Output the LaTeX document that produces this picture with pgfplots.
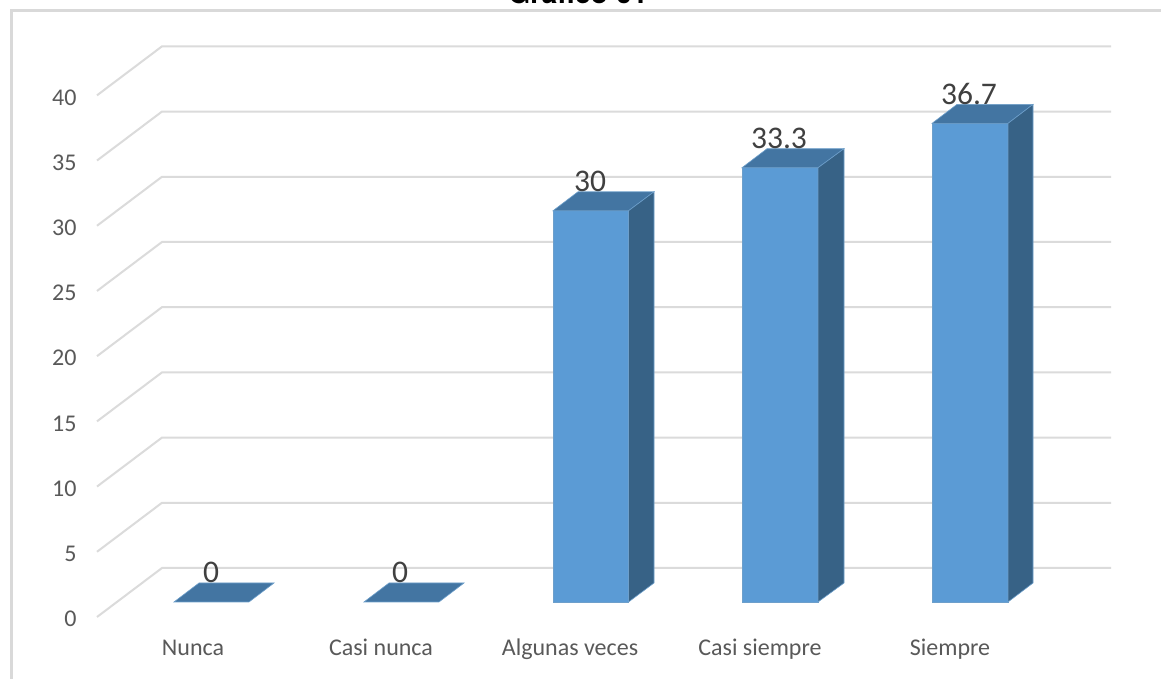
\documentclass[border=0pt]{standalone}
\usepackage{pgfplots}
\pgfplotsset{compat=1.18}
\usepackage{fontspec}
\setmainfont{Carlito}
\newfontfamily\arial{TeX Gyre Heros}
\definecolor{gridc}{HTML}{DBDBDB}
\definecolor{framec}{HTML}{D9D9D9}
\definecolor{frontc}{HTML}{5B9BD5}
\definecolor{topc}{HTML}{4375A2}
\definecolor{sidec}{HTML}{376286}
\definecolor{tickc}{HTML}{595959}
\definecolor{labc}{HTML}{404040}
\definecolor{edgec}{HTML}{6D9FCB}
\begin{document}
\begin{tikzpicture}
\clip (0,0) rectangle (1161pt,679pt);
\fill[white] (0,0) rectangle (1161pt,679pt);
\draw[framec,line width=2.4pt] (11.5pt,0) -- (11.5pt,668.5pt) -- (1161pt,668.5pt);
\node[font=\arial\bfseries\fontsize{28.5}{32}\selectfont,anchor=base,inner sep=0pt] at (578pt,675pt) {Gráfico 01};
\begin{axis}[
  at={(0,0)},anchor=south west,
  scale only axis,width=1161pt,height=679pt,
  xmin=0,xmax=1161,
  ymin=-5.905,ymax=46.166,
  clip=false,
  axis line style={draw=none},
  major tick length=0pt,
  tick style={draw=none},
  xtick={193,381,570,760,950},
  xticklabels={Nunca,Casi nunca,Algunas veces,Casi siempre,Siempre},
  ytick={-1.15,3.85,8.85,13.85,18.85,23.85,28.85,33.85,38.85},
  yticklabels={0,5,10,15,20,25,30,35,40},
  ticklabel style={text=tickc,font=\fontsize{24}{28}\selectfont},
  xticklabel style={anchor=base,yshift=23.5pt},
  yticklabel style={anchor=east,xshift=80pt,yshift=-2pt},
  /pgf/number format/assume math mode=true,
]
% gridlines: front-left corner, back-left corner, back-right corner
\pgfplotsinvokeforeach{-1.15,3.85,8.85,13.85,18.85,23.85,28.85,33.85,38.85}{
  \addplot[gridc,line width=2pt,forget plot] coordinates {(97,#1) (162,#1+3.757) (1111,#1+3.757)};
}
% value labels (drawn first: the top faces cover their feet)
\addplot[draw=none,forget plot,
  nodes near coords,
  every node near coord/.style={anchor=center,yshift=29.5pt,text=labc,
     font=\fontsize{31.5}{34}\selectfont,inner sep=0pt}]
  coordinates {(211,0)(400,0)(590,30)(779,33.3)(969,36.7)};
% Nunca = 0
\addplot[draw=edgec,fill=topc,line width=.6pt,forget plot] coordinates {(174,0)(199,1.457)(274,1.457)(249,0)} -- cycle;
% Casi nunca = 0
\addplot[draw=edgec,fill=topc,line width=.6pt,forget plot] coordinates {(364,0)(389,1.457)(464,1.457)(439,0)} -- cycle;
% Algunas veces = 30
\addplot[draw=edgec,fill=frontc,line width=.6pt,forget plot] coordinates {(553,0)(553,30)(628.5,30)(628.5,0)} -- cycle;
\addplot[draw=edgec,fill=topc,line width=.6pt,forget plot] coordinates {(553,30)(578,31.457)(654,31.457)(628.5,30)} -- cycle;
\addplot[draw=edgec,fill=sidec,line width=.6pt,forget plot] coordinates {(628.5,0)(654,1.457)(654,31.457)(628.5,30)} -- cycle;
% Casi siempre = 33.3
\addplot[draw=edgec,fill=frontc,line width=.6pt,forget plot] coordinates {(742,0)(742,33.3)(818,33.3)(818,0)} -- cycle;
\addplot[draw=edgec,fill=topc,line width=.6pt,forget plot] coordinates {(742,33.3)(767,34.757)(844,34.757)(818,33.3)} -- cycle;
\addplot[draw=edgec,fill=sidec,line width=.6pt,forget plot] coordinates {(818,0)(844,1.457)(844,34.757)(818,33.3)} -- cycle;
% Siempre = 36.7
\addplot[draw=edgec,fill=frontc,line width=.6pt,forget plot] coordinates {(932,0)(932,36.7)(1008,36.7)(1008,0)} -- cycle;
\addplot[draw=edgec,fill=topc,line width=.6pt,forget plot] coordinates {(932,36.7)(957,38.157)(1033,38.157)(1008,36.7)} -- cycle;
\addplot[draw=edgec,fill=sidec,line width=.6pt,forget plot] coordinates {(1008,0)(1033,1.457)(1033,38.157)(1008,36.7)} -- cycle;
\end{axis}
\end{tikzpicture}
\end{document}
